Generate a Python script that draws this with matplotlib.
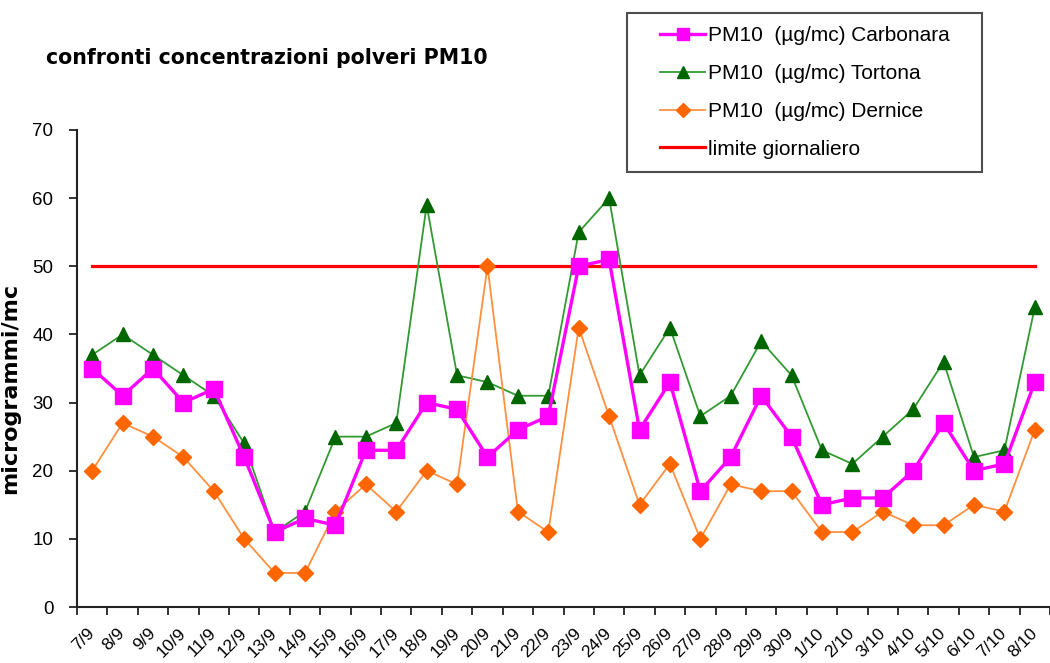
import matplotlib
matplotlib.use("Agg")
import matplotlib.pyplot as plt
from matplotlib.legend_handler import HandlerLine2D

plt.rcParams['font.family'] = ['Liberation Sans', 'DejaVu Sans']

dates = ["7/9", "8/9", "9/9", "10/9", "11/9", "12/9", "13/9", "14/9", "15/9", "16/9",
         "17/9", "18/9", "19/9", "20/9", "21/9", "22/9", "23/9", "24/9", "25/9", "26/9",
         "27/9", "28/9", "29/9", "30/9", "1/10", "2/10", "3/10", "4/10", "5/10", "6/10",
         "7/10", "8/10"]

carbonara = [35, 31, 35, 30, 32, 22, 11, 13, 12, 23, 23, 30, 29, 22, 26, 28,
             50, 51, 26, 33, 17, 22, 31, 25, 15, 16, 16, 20, 27, 20, 21, 33]
tortona = [37, 40, 37, 34, 31, 24, 11, 14, 25, 25, 27, 59, 34, 33, 31, 31,
           55, 60, 34, 41, 28, 31, 39, 34, 23, 21, 25, 29, 36, 22, 23, 44]
dernice = [20, 27, 25, 22, 17, 10, 5, 5, 14, 18, 14, 20, 18, 50, 14, 11,
           41, 28, 15, 21, 10, 18, 17, 17, 11, 11, 14, 12, 12, 15, 14, 26]
limite = [50] * len(dates)


class ShiftHandler(HandlerLine2D):
    def __init__(self, shift, **kw):
        super().__init__(**kw)
        self.shift = shift

    def create_artists(self, legend, orig_handle, xdescent, ydescent, width,
                       height, fontsize, trans):
        return super().create_artists(legend, orig_handle, xdescent - self.shift,
                                      ydescent, width - self.shift, height,
                                      fontsize, trans)


fig = plt.figure(figsize=(10.5, 6.63), dpi=100)
ax = fig.add_axes([77/1050, 1 - 607/663, (1050 - 77)/1050, (607 - 130)/663])

x = list(range(len(dates)))
l1, = ax.plot(x, carbonara, color='#FF00FF', lw=2.4, marker='s', ms=11,
              mfc='#FF00FF', mec='#FF00FF', label='PM10  (µg/mc) Carbonara', zorder=4)
l2, = ax.plot(x, tortona, color='#339933', lw=1.3, marker='^', ms=10,
              mfc='#006600', mec='#006600', label='PM10  (µg/mc) Tortona', zorder=3)
l3, = ax.plot(x, dernice, color='#FF9040', lw=1.3, marker='D', ms=8,
              mfc='#FF6600', mec='#FF6600', label='PM10  (µg/mc) Dernice', zorder=3)
l4, = ax.plot(x, limite, color='#FF0000', lw=2.3, label='limite giornaliero', zorder=2)

ax.set_xlim(-0.5, 31.33)
ax.set_ylim(0, 70)
ax.set_yticks(range(0, 71, 10))
ax.set_xticks(x)
ax.set_xticklabels(dates, rotation=45, ha='right', va='center',
                   rotation_mode='anchor', fontsize=12.5)
ax.set_xticks([i - 0.5 for i in range(len(dates) + 1)], minor=True)
ax.tick_params(axis='x', which='major', length=0, pad=17)
ax.tick_params(axis='x', which='minor', length=6, width=1.3, direction='out', color='#222222')
ax.tick_params(axis='y', length=6, width=1.3, direction='out', labelsize=13.5,
               color='#222222', pad=11)

for s in ['top', 'right']:
    ax.spines[s].set_visible(False)
for s in ['left', 'bottom']:
    ax.spines[s].set_linewidth(1.5)
    ax.spines[s].set_color('#222222')

fig.text(10/1050, 1 - 388/663, 'microgrammi/mc', rotation=90, fontsize=16,
         fontweight='bold', ha='center', va='center', family=['DejaVu Sans'])

fig.text(46/1050, 1 - 57.5/663, 'confronti concentrazioni polveri PM10',
         fontsize=14.8, fontweight='bold', va='center', ha='left',
         family=['DejaVu Sans'])

shift_pt = 20 * 72 / 100
hm = {h: ShiftHandler(shift_pt) for h in (l1, l2, l3, l4)}
leg = fig.legend(handles=[l1, l2, l3, l4], handler_map=hm,
                 loc='upper left', bbox_to_anchor=(627/1050, 1 - 13/663, (982 - 627)/1050, 0.0),
                 mode='expand', fontsize=15, frameon=True, fancybox=False,
                 edgecolor='#222222', handlelength=3.13, labelspacing=0.91,
                 borderpad=0.62, handletextpad=0.12, borderaxespad=0)
leg.get_frame().set_linewidth(1.5)
for h in leg.legend_handles:
    try:
        h.set_markersize(h.get_markersize() * 0.85)
    except Exception:
        pass

fig.savefig('out.png', dpi=100)
